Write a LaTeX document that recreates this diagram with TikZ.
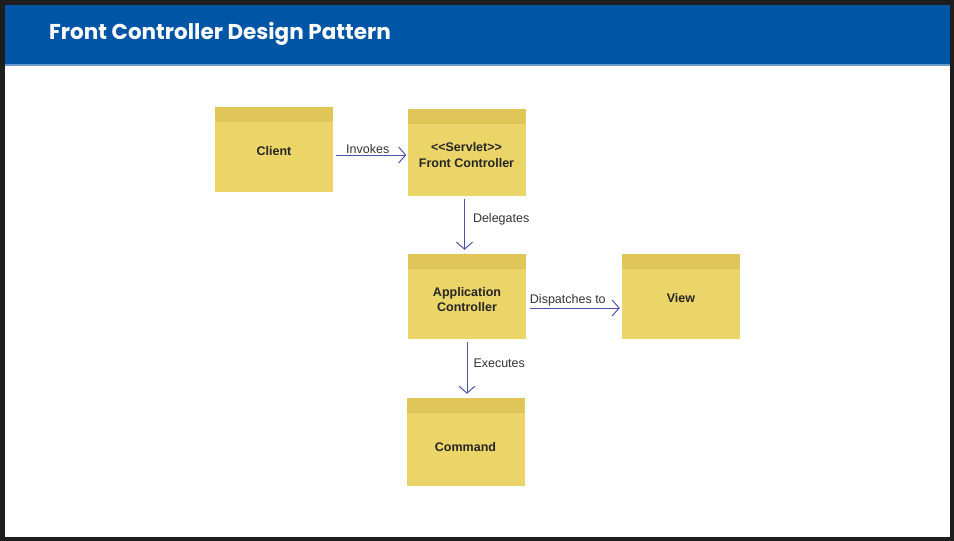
\documentclass[tikz,border=0pt]{standalone}
\usepackage{fontspec}
\setmainfont{Liberation Sans}
\newfontfamily\titlefont{Poppins}
\usetikzlibrary{arrows.meta}
\definecolor{frame}{HTML}{1E1E1E}
\definecolor{hdr}{HTML}{0055A6}
\definecolor{note}{HTML}{EBD468}
\definecolor{notetop}{HTML}{E0C658}
\definecolor{arr}{HTML}{4A52AA}
\tikzset{
  notebox/.style={fill=note, minimum width=118pt, minimum height=85pt, inner sep=0pt, path picture={\fill[notetop] (path picture bounding box.north west) rectangle ([yshift=-15pt]path picture bounding box.north east);}},
  boxtext/.style={font=\bfseries\fontsize{12.5}{15.5}\selectfont, align=center, text=black!85, inner sep=0pt},
  link/.style={draw=arr, line width=1pt, -{Straight Barb[length=7pt,width=16pt,line width=1pt]}},
  lbl/.style={font=\fontsize{12.5}{15}\selectfont, text=black!80, inner sep=1pt}
}
\begin{document}
\begin{tikzpicture}[x=1pt,y=-1pt]
\useasboundingbox (0,0) rectangle (954,541);
\fill[frame] (0,0) rectangle (954,541);
\fill[white] (5,5) rectangle (950,537);
\fill[hdr] (5,5) rectangle (950,64);
\fill[hdr!60!white] (5,64) rectangle (950,66);
\node[anchor=west, text=white, font=\titlefont\bfseries\fontsize{21.5}{24}\selectfont, inner sep=0pt] (title) at (49,34) {Front Controller Design Pattern};
\node[notebox] (client) at (274,149.5) {};
\node[notebox, minimum height=87pt] (fc) at (466.5,152.5) {};
\node[notebox] (ac) at (467,296.5) {};
\node[notebox] (view) at (681,296.5) {};
\node[notebox, minimum height=88pt] (cmd) at (465.5,442) {};
\node[boxtext] (client-t) at ([yshift=-1.5pt]client.center) {Client};
\node[boxtext] (fc-t) at ([yshift=-2.5pt]fc.center) {<\kern0pt<Servlet>\kern0pt>\\Front Controller};
\node[boxtext] (ac-t) at ([yshift=-3pt]ac.center) {Application\\Controller};
\node[boxtext] (view-t) at ([yshift=-1.5pt]view.center) {View};
\node[boxtext] (cmd-t) at ([yshift=-5pt]cmd.center) {Command};
\draw[link] (client.east |- 0,155) ++(3,0) coordinate (a1) -- ([xshift=-1pt]a1 -| fc.west) node[pos=0.45, above, lbl] {Invokes};
\draw[link] ([yshift=-3pt]fc.south) ++(-2,0) coordinate (a2) -- ([yshift=4pt]a2 |- ac.north) node[midway, right, lbl, xshift=7pt, yshift=5pt] {Delegates};
\draw[link] (ac.east |- 0,308) ++(4,0) coordinate (a3) -- ([xshift=-2pt]a3 -| view.west) node[pos=0.42, above, lbl] {Dispatches to};
\draw[link] ([yshift=-3pt]ac.south) coordinate (a4) -- ([yshift=4pt]a4 |- cmd.north) node[midway, right, lbl, xshift=5pt, yshift=4.5pt] {Executes};
\end{tikzpicture}
\end{document}
